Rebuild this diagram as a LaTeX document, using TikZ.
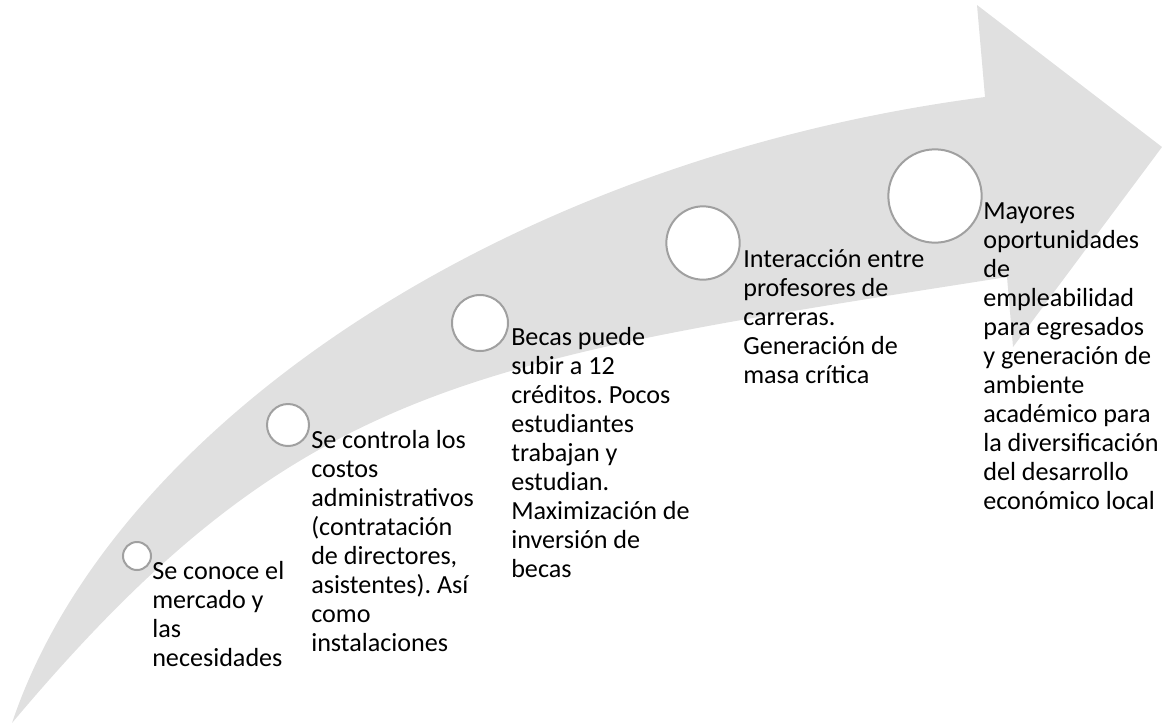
\documentclass[tikz,border=0pt]{standalone}
\usepackage{fontspec}
\setmainfont{Carlito}
\frenchspacing
\definecolor{arrowgray}{HTML}{E0E0E0}
\definecolor{ringgray}{HTML}{A0A0A0}
\newcommand{\fl}{\rule{0pt}{17pt}}
\tikzset{
  ring/.style={circle, draw=ringgray, line width=1.5pt, fill=white, inner sep=0pt},
  label/.style={anchor=north west, inner sep=0pt, align=left, text=black,
    font=\fontsize{19.6pt}{21.75pt}\selectfont}
}
\begin{document}
\begin{tikzpicture}[x=0.75pt, y=-0.75pt]
\useasboundingbox (0,0) rectangle (1162,725);
\fill[arrowgray] (12,723) .. controls (110,430) and (500,160) .. (985,97)
  -- (977,5) -- (1162,147) -- (1013,347) -- (1007,277)
  .. controls (473,361) and (300,380) .. (12,723) -- cycle;
\node[ring, minimum size=21pt] (c1) at (137,556) {};
\node[ring, minimum size=31.5pt] (c2) at (288,425) {};
\node[ring, minimum size=42pt] (c3) at (480,323) {};
\node[ring, minimum size=55pt] (c4) at (703,243) {};
\node[ring, minimum size=70pt] (c5) at (935,196) {};
\node[label] (t1) at (152,556.3) {\fl Se conoce el\\mercado y\\las\\necesidades};
\node[label] (t2) at (311,425.3) {\fl Se controla los\\costos\\administrativos\\(contratación\\de directores,\\asistentes). Así\\como\\instalaciones};
\node[label] (t3) at (511,322.3) {\fl Becas puede\\subir a 12\\créditos. Pocos\\estudiantes\\trabajan y\\estudian.\\Maximización de\\inversión de\\becas};
\node[label] (t4) at (743,244.3) {\fl Interacción entre\\profesores de\\carreras.\\Generación de\\masa crítica};
\node[label] (t5) at (983,196.3) {\fl Mayores\\oportunidades\\de\\empleabilidad\\para egresados\\y generación de\\ambiente\\académico para\\la diversificación\\del desarrollo\\económico local};
\end{tikzpicture}
\end{document}
